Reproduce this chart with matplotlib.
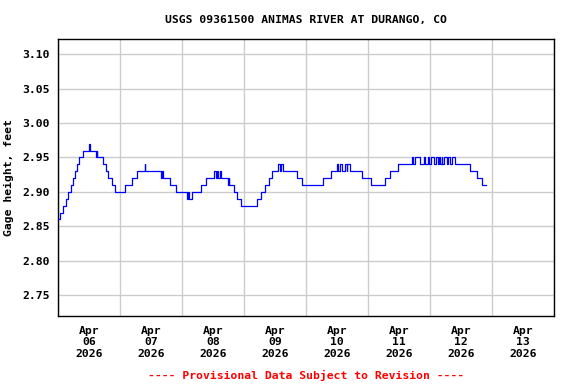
import matplotlib
matplotlib.use("Agg")
import matplotlib.pyplot as plt
import matplotlib.dates as mdates
import pandas as pd

# gage height readings: hours after 2026-04-06 00:00 where the value changes
hours = [0.0, 0.75, 2.0, 3.0, 4.0, 5.0, 5.75, 6.5, 7.25, 8.0, 9.75, 12.0, 12.25,
         14.75, 15.0, 15.25, 17.5, 18.5, 19.5, 21.0, 22.0, 26.0, 28.75, 30.75,
         33.5, 33.75, 40.0, 40.25, 40.75, 43.25, 45.75, 50.0, 50.5, 50.75, 52.0,
         55.25, 57.25, 60.5, 61.0, 61.5, 62.0, 62.75, 63.25, 65.75, 66.0, 66.25,
         68.25, 69.25, 70.75, 77.0, 78.75, 80.0, 81.5, 83.0, 85.25, 86.0, 86.5,
         87.25, 92.5, 94.5, 102.75, 105.5, 108.0, 108.5, 109.0, 110.0, 111.25,
         111.75, 112.0, 113.0, 117.5, 121.0, 126.5, 128.5, 131.75, 137.0, 137.5,
         138.25, 140.0, 141.5, 142.0, 143.25, 143.75, 144.25, 145.5, 146.5, 147.0,
         147.5, 148.0, 148.5, 148.75, 149.5, 150.5, 151.0, 151.75, 152.5, 153.5,
         159.5, 162.0, 164.0, 165.75]
stage = [2.86, 2.87, 2.88, 2.89, 2.90, 2.91, 2.92, 2.93, 2.94, 2.95, 2.96, 2.97, 2.96,
         2.95, 2.96, 2.95, 2.94, 2.93, 2.92, 2.91, 2.90, 2.91, 2.92, 2.93,
         2.94, 2.93, 2.92, 2.93, 2.92, 2.91, 2.90, 2.89, 2.90, 2.89, 2.90,
         2.91, 2.92, 2.93, 2.92, 2.93, 2.92, 2.93, 2.92, 2.91, 2.92, 2.91,
         2.90, 2.89, 2.88, 2.89, 2.90, 2.91, 2.92, 2.93, 2.94, 2.93, 2.94,
         2.93, 2.92, 2.91, 2.92, 2.93, 2.94, 2.93, 2.94, 2.93, 2.94,
         2.93, 2.94, 2.93, 2.92, 2.91, 2.92, 2.93, 2.94, 2.95, 2.94,
         2.95, 2.94, 2.95, 2.94, 2.95, 2.94, 2.95, 2.94, 2.95, 2.94,
         2.95, 2.94, 2.95, 2.94, 2.95, 2.94, 2.95, 2.94, 2.95, 2.94,
         2.93, 2.92, 2.91, 2.91]

start = pd.Timestamp("2026-04-06")
day_ticks = pd.date_range("2026-04-06", "2026-04-14", freq="D")
label_days = pd.date_range("2026-04-06 12:00", "2026-04-13 12:00", freq="D")
y_ticks = [2.75, 2.80, 2.85, 2.90, 2.95, 3.00, 3.05, 3.10]

title = "USGS 09361500 ANIMAS RIVER AT DURANGO, CO"
footer = "---- Provisional Data Subject to Revision ----"

plt.rcParams["font.family"] = "DejaVu Sans Mono"
plt.rcParams["font.weight"] = "bold"

fig = plt.figure(figsize=(5.76, 3.84), dpi=100)
ax = fig.add_axes([58 / 576, 1 - 316 / 384, 496 / 576, 277 / 384])

times = start + pd.to_timedelta(hours, unit="h")
ax.step(times, stage, where="post", color="#0000ff", linewidth=0.9, zorder=3)

ax.set_xlim(day_ticks[0], day_ticks[-1])
ax.set_ylim(2.7195, 3.1223)

ax.set_yticks(y_ticks)
ax.set_yticklabels([f"{v:.2f}" for v in y_ticks], fontsize=8.2, fontweight="bold")
ax.set_xticks(day_ticks)
ax.set_xticklabels([""] * len(day_ticks))
ax.set_xticks(label_days, minor=True)
ax.set_xticklabels([d.strftime("Apr\n%d\n%Y") for d in label_days], minor=True,
                   fontsize=8.2, fontweight="bold", linespacing=1.2)
ax.tick_params(axis="both", which="both", length=0)
ax.tick_params(axis="y", pad=6)
ax.tick_params(axis="x", which="minor", pad=7)

ax.grid(True, which="major", color="#cccccc", linewidth=1)
ax.set_axisbelow(True)
for s in ax.spines.values():
    s.set_color("black")
    s.set_linewidth(1)

ax.set_ylabel("Gage height, feet", fontsize=8.2, fontweight="bold", labelpad=6)
fig.text(306 / 576, 1 - 20 / 384, title, ha="center", va="center",
         fontsize=8.2, fontweight="bold")
fig.text(306 / 576, 1 - 375 / 384, footer, ha="center", va="center",
         fontsize=8.2, fontweight="bold", color="#ff0000")

fig.savefig("out.png", dpi=100)
